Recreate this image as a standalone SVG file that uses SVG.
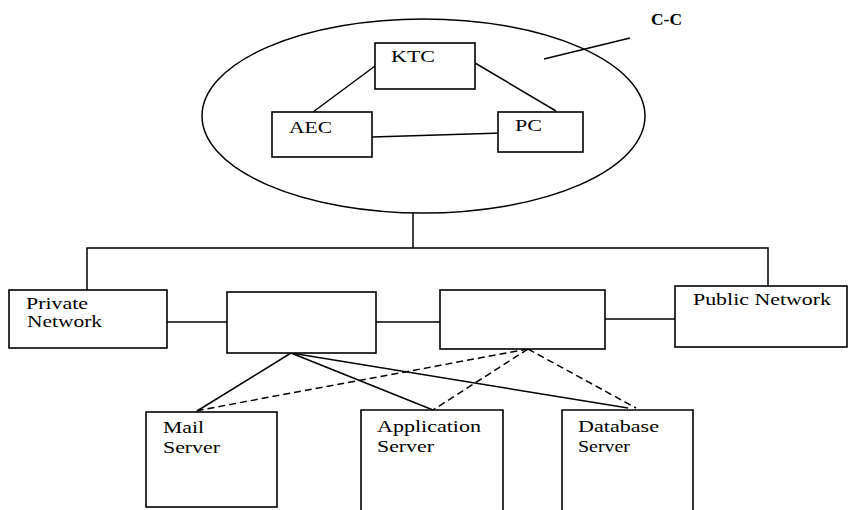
<svg xmlns="http://www.w3.org/2000/svg" width="849" height="510" viewBox="0 0 849 510">
<style>
.b{fill:#fff;stroke:#000;stroke-width:1.6}
.l{fill:none;stroke:#000;stroke-width:1.5}
.d{fill:none;stroke:#000;stroke-width:1.5;stroke-dasharray:7 4}
text{font-family:"Liberation Serif","Times New Roman",serif;font-size:17px;fill:#000}
</style>
<rect width="849" height="510" fill="#fff"/>
<g id="cc">
<ellipse class="l" cx="423.5" cy="116" rx="221.5" ry="97"/>
<text x="651" y="25" font-weight="bold" font-size="16" textLength="31" lengthAdjust="spacingAndGlyphs">C-C</text>
</g>
<g id="connectors">
<line class="l" x1="544" y1="59" x2="630" y2="38"/>
<line class="l" x1="375" y1="66" x2="313" y2="112"/>
<line class="l" x1="475" y1="63" x2="556" y2="111"/>
<line class="l" x1="372" y1="137" x2="502" y2="133"/>
<line class="l" x1="413" y1="213" x2="413" y2="248"/>
<polyline class="l" points="87,290 87,248 768,248 768,286"/>
<line class="l" x1="167" y1="322" x2="229" y2="322"/>
<line class="l" x1="376" y1="322" x2="442" y2="322"/>
<line class="l" x1="605" y1="319" x2="675" y2="319"/>
<line class="l" x1="291" y1="353" x2="197" y2="411"/>
<line class="l" x1="291" y1="353" x2="433" y2="410"/>
<line class="l" x1="291" y1="353" x2="628" y2="408"/>
<line class="d" x1="528" y1="349" x2="195" y2="411"/>
<line class="d" x1="528" y1="349" x2="433" y2="410"/>
<line class="d" x1="528" y1="349" x2="636" y2="408"/>
</g>
<g id="ktc"><rect class="b" x="375" y="43" width="100" height="46"/><text x="391" y="62" textLength="44" lengthAdjust="spacingAndGlyphs">KTC</text></g>
<g id="aec"><rect class="b" x="272" y="112" width="100" height="45"/><text x="289" y="133" textLength="43" lengthAdjust="spacingAndGlyphs">AEC</text></g>
<g id="pc"><rect class="b" x="498" y="112" width="85" height="40"/><text x="515" y="131" textLength="27" lengthAdjust="spacingAndGlyphs">PC</text></g>
<g id="private-network"><rect class="b" x="9" y="290" width="158" height="58"/><text x="26" y="309" textLength="62" lengthAdjust="spacingAndGlyphs">Private</text><text x="27" y="327" textLength="75" lengthAdjust="spacingAndGlyphs">Network</text></g>
<g id="box1"><rect class="b" x="227" y="292" width="149" height="61"/></g>
<g id="box2"><rect class="b" x="440" y="290" width="165" height="59"/></g>
<g id="public-network"><rect class="b" x="675" y="286" width="172" height="61"/><text x="693" y="305" textLength="138" lengthAdjust="spacingAndGlyphs">Public Network</text></g>
<g id="mail-server"><rect class="b" x="146" y="412" width="131" height="95"/><text x="163" y="433" textLength="41" lengthAdjust="spacingAndGlyphs">Mail</text><text x="163" y="453" textLength="57" lengthAdjust="spacingAndGlyphs">Server</text></g>
<g id="application-server"><path class="b" d="M361,512 V410 H503 V512"/><text x="377" y="432" textLength="104" lengthAdjust="spacingAndGlyphs">Application</text><text x="377" y="452" textLength="57" lengthAdjust="spacingAndGlyphs">Server</text></g>
<g id="database-server"><path class="b" d="M562,512 V410 H693 V512"/><text x="578" y="432" textLength="81" lengthAdjust="spacingAndGlyphs">Database</text><text x="578" y="452" textLength="52" lengthAdjust="spacingAndGlyphs">Server</text></g>
</svg>
